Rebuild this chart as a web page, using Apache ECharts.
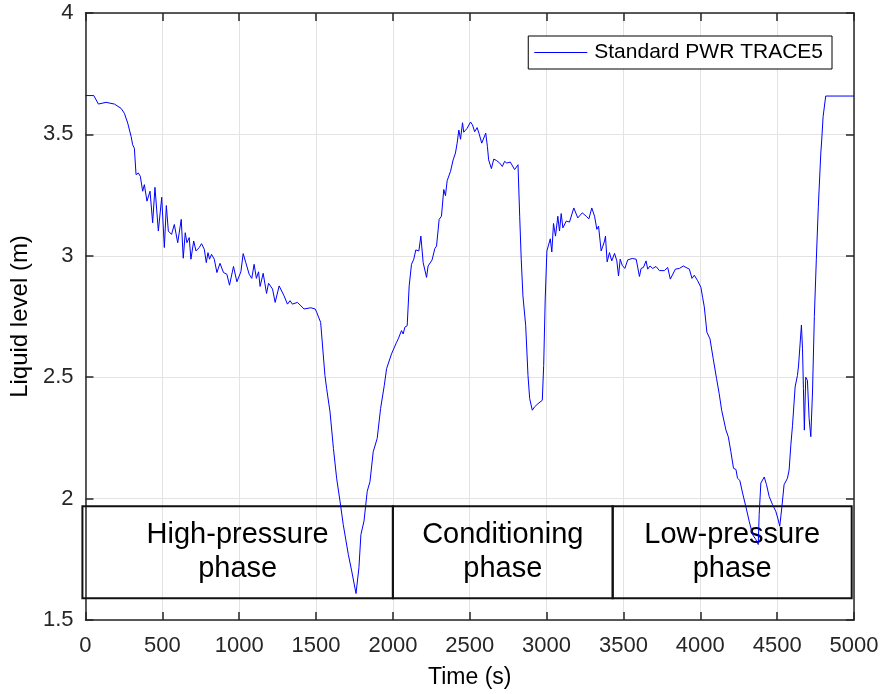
<!DOCTYPE html>
<html>
<head>
<meta charset="utf-8">
<script src="https://cdn.jsdelivr.net/npm/echarts@6/dist/echarts.min.js"></script>
<style>
html,body{margin:0;padding:0;background:#fff;}
#chart{width:883px;height:694px;}
</style>
</head>
<body>
<div id="chart"></div>
<script>
// ---- data ----
const seriesName = 'Standard PWR TRACE5';
const time = [0,54,84,134,188,232,253,275,297,307,318,329,344,357,372,383,400,420,437,452,474,496,513,526,539,560,578,600,623,636,649,660,675,686,704,719,740,755,773,786,797,807,820,838,855,875,898,920,937,963,985,1011,1026,1043,1065,1082,1097,1112,1126,1136,1156,1178,1191,1217,1234,1260,1292,1314,1331,1346,1379,1422,1466,1494,1504,1521,1530,1558,1569,1591,1613,1634,1656,1677,1710,1732,1760,1779,1792,1812,1833,1851,1872,1898,1920,1944,1959,1991,2024,2035,2056,2067,2078,2093,2106,2121,2136,2149,2169,2182,2197,2208,2219,2229,2255,2273,2284,2301,2316,2331,2342,2353,2375,2392,2407,2418,2429,2440,2453,2461,2483,2505,2518,2532,2548,2560,2578,2604,2615,2623,2641,2656,2673,2695,2712,2727,2741,2764,2777,2792,2803,2814,2825,2835,2846,2864,2879,2890,2907,2922,2944,2972,2981,2991,3002,3024,3034,3045,3058,3073,3084,3095,3106,3128,3149,3177,3203,3232,3258,3275,3294,3312,3327,3338,3355,3366,3377,3383,3394,3409,3424,3442,3457,3468,3479,3492,3509,3528,3557,3583,3604,3615,3630,3647,3658,3673,3690,3712,3734,3766,3788,3805,3816,3838,3864,3890,3907,3929,3946,3961,3983,4004,4015,4026,4043,4063,4084,4106,4123,4139,4152,4167,4182,4199,4216,4232,4242,4257,4275,4296,4318,4340,4362,4377,4383,4394,4416,4431,4448,4470,4491,4504,4517,4530,4545,4567,4578,4589,4600,4617,4632,4639,4647,4658,4665,4671,4677,4686,4697,4708,4719,4730,4742,4755,4768,4784,4790,4799,4816,5000];
const level = [3.660,3.660,3.625,3.632,3.625,3.607,3.587,3.546,3.491,3.457,3.443,3.334,3.341,3.327,3.266,3.293,3.225,3.266,3.136,3.282,3.102,3.241,3.034,3.207,3.102,3.088,3.129,3.054,3.150,2.990,3.095,3.054,3.075,2.986,3.061,3.020,3.034,3.050,3.027,2.972,3.013,2.986,3.006,2.986,2.931,2.969,2.931,2.924,2.879,2.956,2.893,2.934,3.009,2.972,2.924,2.907,2.965,2.907,2.934,2.874,2.928,2.845,2.887,2.863,2.808,2.876,2.835,2.801,2.815,2.801,2.808,2.781,2.786,2.781,2.768,2.740,2.726,2.507,2.453,2.357,2.207,2.084,1.989,1.893,1.770,1.702,1.609,1.715,1.852,1.907,2.030,2.070,2.193,2.248,2.371,2.466,2.535,2.596,2.644,2.658,2.692,2.678,2.706,2.712,2.876,2.965,2.986,3.024,3.020,3.081,2.972,2.972,2.911,2.958,2.983,3.030,3.040,3.150,3.163,3.273,3.248,3.309,3.348,3.395,3.423,3.464,3.518,3.480,3.548,3.509,3.525,3.551,3.539,3.511,3.528,3.505,3.464,3.505,3.450,3.395,3.359,3.398,3.393,3.382,3.368,3.389,3.382,3.386,3.389,3.355,3.352,3.375,3.163,2.986,2.835,2.712,2.507,2.412,2.364,2.378,2.391,2.405,2.548,2.822,3.020,3.070,3.016,3.133,3.081,3.163,3.102,3.174,3.115,3.143,3.139,3.197,3.156,3.177,3.163,3.152,3.197,3.163,3.109,3.122,3.020,3.040,3.061,3.081,2.975,3.013,2.979,3.010,2.979,2.917,2.986,2.961,2.948,2.983,2.989,2.986,2.915,2.948,2.952,2.979,2.945,2.958,2.948,2.956,2.939,2.939,2.952,2.904,2.897,2.945,2.948,2.958,2.952,2.945,2.907,2.920,2.897,2.870,2.829,2.790,2.685,2.658,2.576,2.494,2.432,2.364,2.360,2.282,2.255,2.193,2.125,2.120,2.084,2.075,2.023,1.968,1.907,1.852,1.831,1.811,1.934,2.064,2.089,2.057,2.009,1.975,1.948,1.920,1.886,1.961,2.057,2.084,2.118,2.220,2.302,2.460,2.507,2.546,2.550,2.715,2.617,2.453,2.282,2.500,2.487,2.330,2.255,2.439,2.750,2.986,3.204,3.423,3.477,3.573,3.658,3.658];
const phaseLabels = ['High-pressure\nphase', 'Conditioning\nphase', 'Low-pressure\nphase'];
const phaseStart = [-20, 2000, 3430];
const phaseEnd = [2000, 3430, 4985];
const phaseTop = 1.968;
const phaseBottom = 1.59;
const xTicks = {min: 0, max: 5000, step: 500};
const yTicks = {min: 1.5, max: 4, step: 0.5};

const FONT = '"Liberation Sans", Arial, Helvetica, sans-serif';
const AXIS_COLOR = '#262626';

const lineData = time.map((t, i) => [t, level[i]]);
const boxData = phaseLabels.map((lab, i) => [phaseStart[i], phaseEnd[i], phaseTop, phaseBottom, lab]);

const chart = echarts.init(document.getElementById('chart'), null, {renderer: 'canvas'});

function baseAxisCommon() {
  return {
    axisLine: {show: true, onZero: false, lineStyle: {color: AXIS_COLOR, width: 1.5}},
    axisTick: {show: true, inside: true, length: 8, lineStyle: {color: AXIS_COLOR, width: 1.5}},
  };
}

const option = {
  backgroundColor: '#fff',
  animation: false,
  grid: {left: 85, right: 29, top: 13, bottom: 72, containLabel: false},
  legend: {
    show: true,
    data: [{name: seriesName, icon: 'rect', itemStyle: {color: '#0000ff'}}],
    right: 51,
    top: 36,
    orient: 'vertical',
    backgroundColor: '#fff',
    borderColor: '#000',
    borderWidth: 1,
    padding: [6, 9, 6, 6],
    itemWidth: 53,
    itemHeight: 1.2,
    textStyle: {fontFamily: FONT, fontSize: 21, color: '#000', padding: [0, 0, 0, 2]}
  },
  xAxis: [
    Object.assign(baseAxisCommon(), {
      type: 'value', position: 'bottom',
      min: xTicks.min, max: xTicks.max, interval: xTicks.step,
      name: 'Time (s)', nameLocation: 'middle', nameGap: 46,
      nameTextStyle: {fontFamily: FONT, fontSize: 23, color: '#000'},
      axisLabel: {show: true, margin: 15, fontFamily: FONT, fontSize: 22, color: AXIS_COLOR,
                  formatter: function (v) { return String(v); }},
      splitLine: {show: true, lineStyle: {color: '#e3e3e3', width: 1}}
    }),
    Object.assign(baseAxisCommon(), {
      type: 'value', position: 'top',
      min: xTicks.min, max: xTicks.max, interval: xTicks.step,
      axisLabel: {show: false},
      splitLine: {show: false}
    })
  ],
  yAxis: [
    Object.assign(baseAxisCommon(), {
      type: 'value', position: 'left',
      min: yTicks.min, max: yTicks.max, interval: yTicks.step,
      name: 'Liquid level (m)', nameLocation: 'middle', nameGap: 52,
      nameTextStyle: {fontFamily: FONT, fontSize: 24, color: '#000'},
      axisLabel: {show: true, margin: 12, fontFamily: FONT, fontSize: 22, color: AXIS_COLOR,
                  formatter: function (v) { return String(v); }},
      splitLine: {show: true, lineStyle: {color: '#e3e3e3', width: 1}}
    }),
    Object.assign(baseAxisCommon(), {
      type: 'value', position: 'right',
      min: yTicks.min, max: yTicks.max, interval: yTicks.step,
      axisLabel: {show: false},
      splitLine: {show: false}
    })
  ],
  series: [
    {
      type: 'custom',
      name: 'phases',
      xAxisIndex: 0, yAxisIndex: 0,
      clip: false,
      silent: true,
      z: 2,
      data: boxData,
      renderItem: function (params, api) {
        const p0 = api.coord([api.value(0), api.value(2)]);
        const p1 = api.coord([api.value(1), api.value(3)]);
        const label = boxData[params.dataIndex][4];
        return {
          type: 'group',
          children: [
            {
              type: 'rect',
              shape: {x: p0[0], y: p0[1], width: p1[0] - p0[0], height: p1[1] - p0[1]},
              style: {fill: 'none', stroke: '#111', lineWidth: 2}
            },
            {
              type: 'text',
              style: {
                text: label,
                x: (p0[0] + p1[0]) / 2,
                y: (p0[1] + p1[1]) / 2,
                align: 'center',
                verticalAlign: 'middle',
                fontFamily: FONT,
                fontSize: 29,
                lineHeight: 34,
                fill: '#000'
              }
            }
          ]
        };
      }
    },
    {
      type: 'line',
      name: seriesName,
      xAxisIndex: 0, yAxisIndex: 0,
      data: lineData,
      showSymbol: false,
      symbol: 'none',
      z: 5,
      lineStyle: {color: '#0000ff', width: 1},
      itemStyle: {color: '#0000ff'}
    }
  ]
};
chart.setOption(option);
</script>
</body>
</html>
